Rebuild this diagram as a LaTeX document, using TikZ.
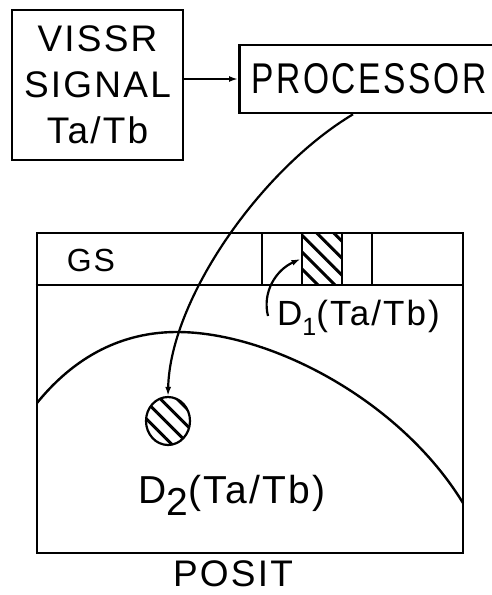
\documentclass[tikz,border=0pt]{standalone}
\usepackage{fontspec}
\usetikzlibrary{shapes.geometric, arrows.meta, positioning, patterns.meta}
\newfontfamily\lett[LetterSpace=6]{Liberation Sans}
\newfontfamily\lettnarrow[FakeStretch=0.78, LetterSpace=6]{Liberation Sans}
\newcommand{\lowidx}[2]{\raisebox{-#1}{#2}}

\begin{document}
\begin{tikzpicture}[
        x=1pt, y=-1pt,
        blockbox/.style={rectangle, draw=black, line width=2.6pt, inner sep=0pt},
        hatch/.style={pattern={Lines[angle=-45, distance=12pt, line width=3pt]}},
        lbl/.style={inner sep=0pt, font=\lett},
        arrow/.style={-{Latex[length=9pt, width=6pt]}, line width=2.2pt, draw=black}
    ]
    \useasboundingbox (0,0) rectangle (492,595);

    % The Boxes
    \node (vissr) [blockbox, minimum width=171pt, minimum height=150pt, align=center, font=\lett\fontsize{37}{46}\selectfont] at (97.5,85) {VISSR\\SIGNAL\\Ta/Tb};

    \node (proc) [blockbox, anchor=west, minimum height=68pt, text width=250pt, align=left, inner xsep=12pt, font=\lettnarrow\fontsize{43}{50}\selectfont] at (238,79) {PROCESSOR};

    \draw [arrow] (vissr.east |- proc.west) -- (proc.west);

    % The Frame with the GS strip
    \node (frame) [blockbox, minimum width=426pt, minimum height=320pt] at (250,393) {};
    \draw [line width=2.6pt] (frame.north west |- 0,285) -- (frame.north east |- 0,285);
    \foreach \x in {262, 372}
        \draw [line width=2.2pt] (\x,233) -- (\x,285);
    \node (cell) [blockbox, line width=2.2pt, hatch, minimum width=40pt, minimum height=52pt] at (322,259) {};
    \node (gs) [lbl, font=\lett\fontsize{32}{32}\selectfont] at (91,260) {GS};

    % The curve
    \draw [line width=2.4pt] (37,403) .. controls (80,350) and (130,332) .. (177,332)
        .. controls (270,332) and (400,400) .. (463,503);

    \node (spot) [ellipse, draw, line width=2.2pt, hatch, minimum width=44pt, minimum height=48pt, inner sep=0pt] at (168,421) {};

    % The labels
    \node (d1) [lbl, anchor=base west, font=\lett\fontsize{35}{35}\selectfont] at (277,325) {D\lowidx{10pt}{\fontsize{25}{25}\selectfont 1}(Ta/Tb)};
    \node (d2) [lbl, anchor=base west, font=\lett\fontsize{39}{39}\selectfont] at (138,503) {D\lowidx{12pt}{2}(Ta/Tb)};
    \node (posit) [lbl, anchor=base, font=\lett\fontsize{37}{37}\selectfont] at (233,586) {POSIT};

    % The arrows
    \coordinate (d1tail) at (268,316);
    \draw [arrow] (d1tail) .. controls (262,292) and (276,270) .. (cell.west);
    \draw [arrow] ([xshift=115pt]proc.south west) .. controls (260,170) and (170,300) .. (spot.north);

\end{tikzpicture}
\end{document}
